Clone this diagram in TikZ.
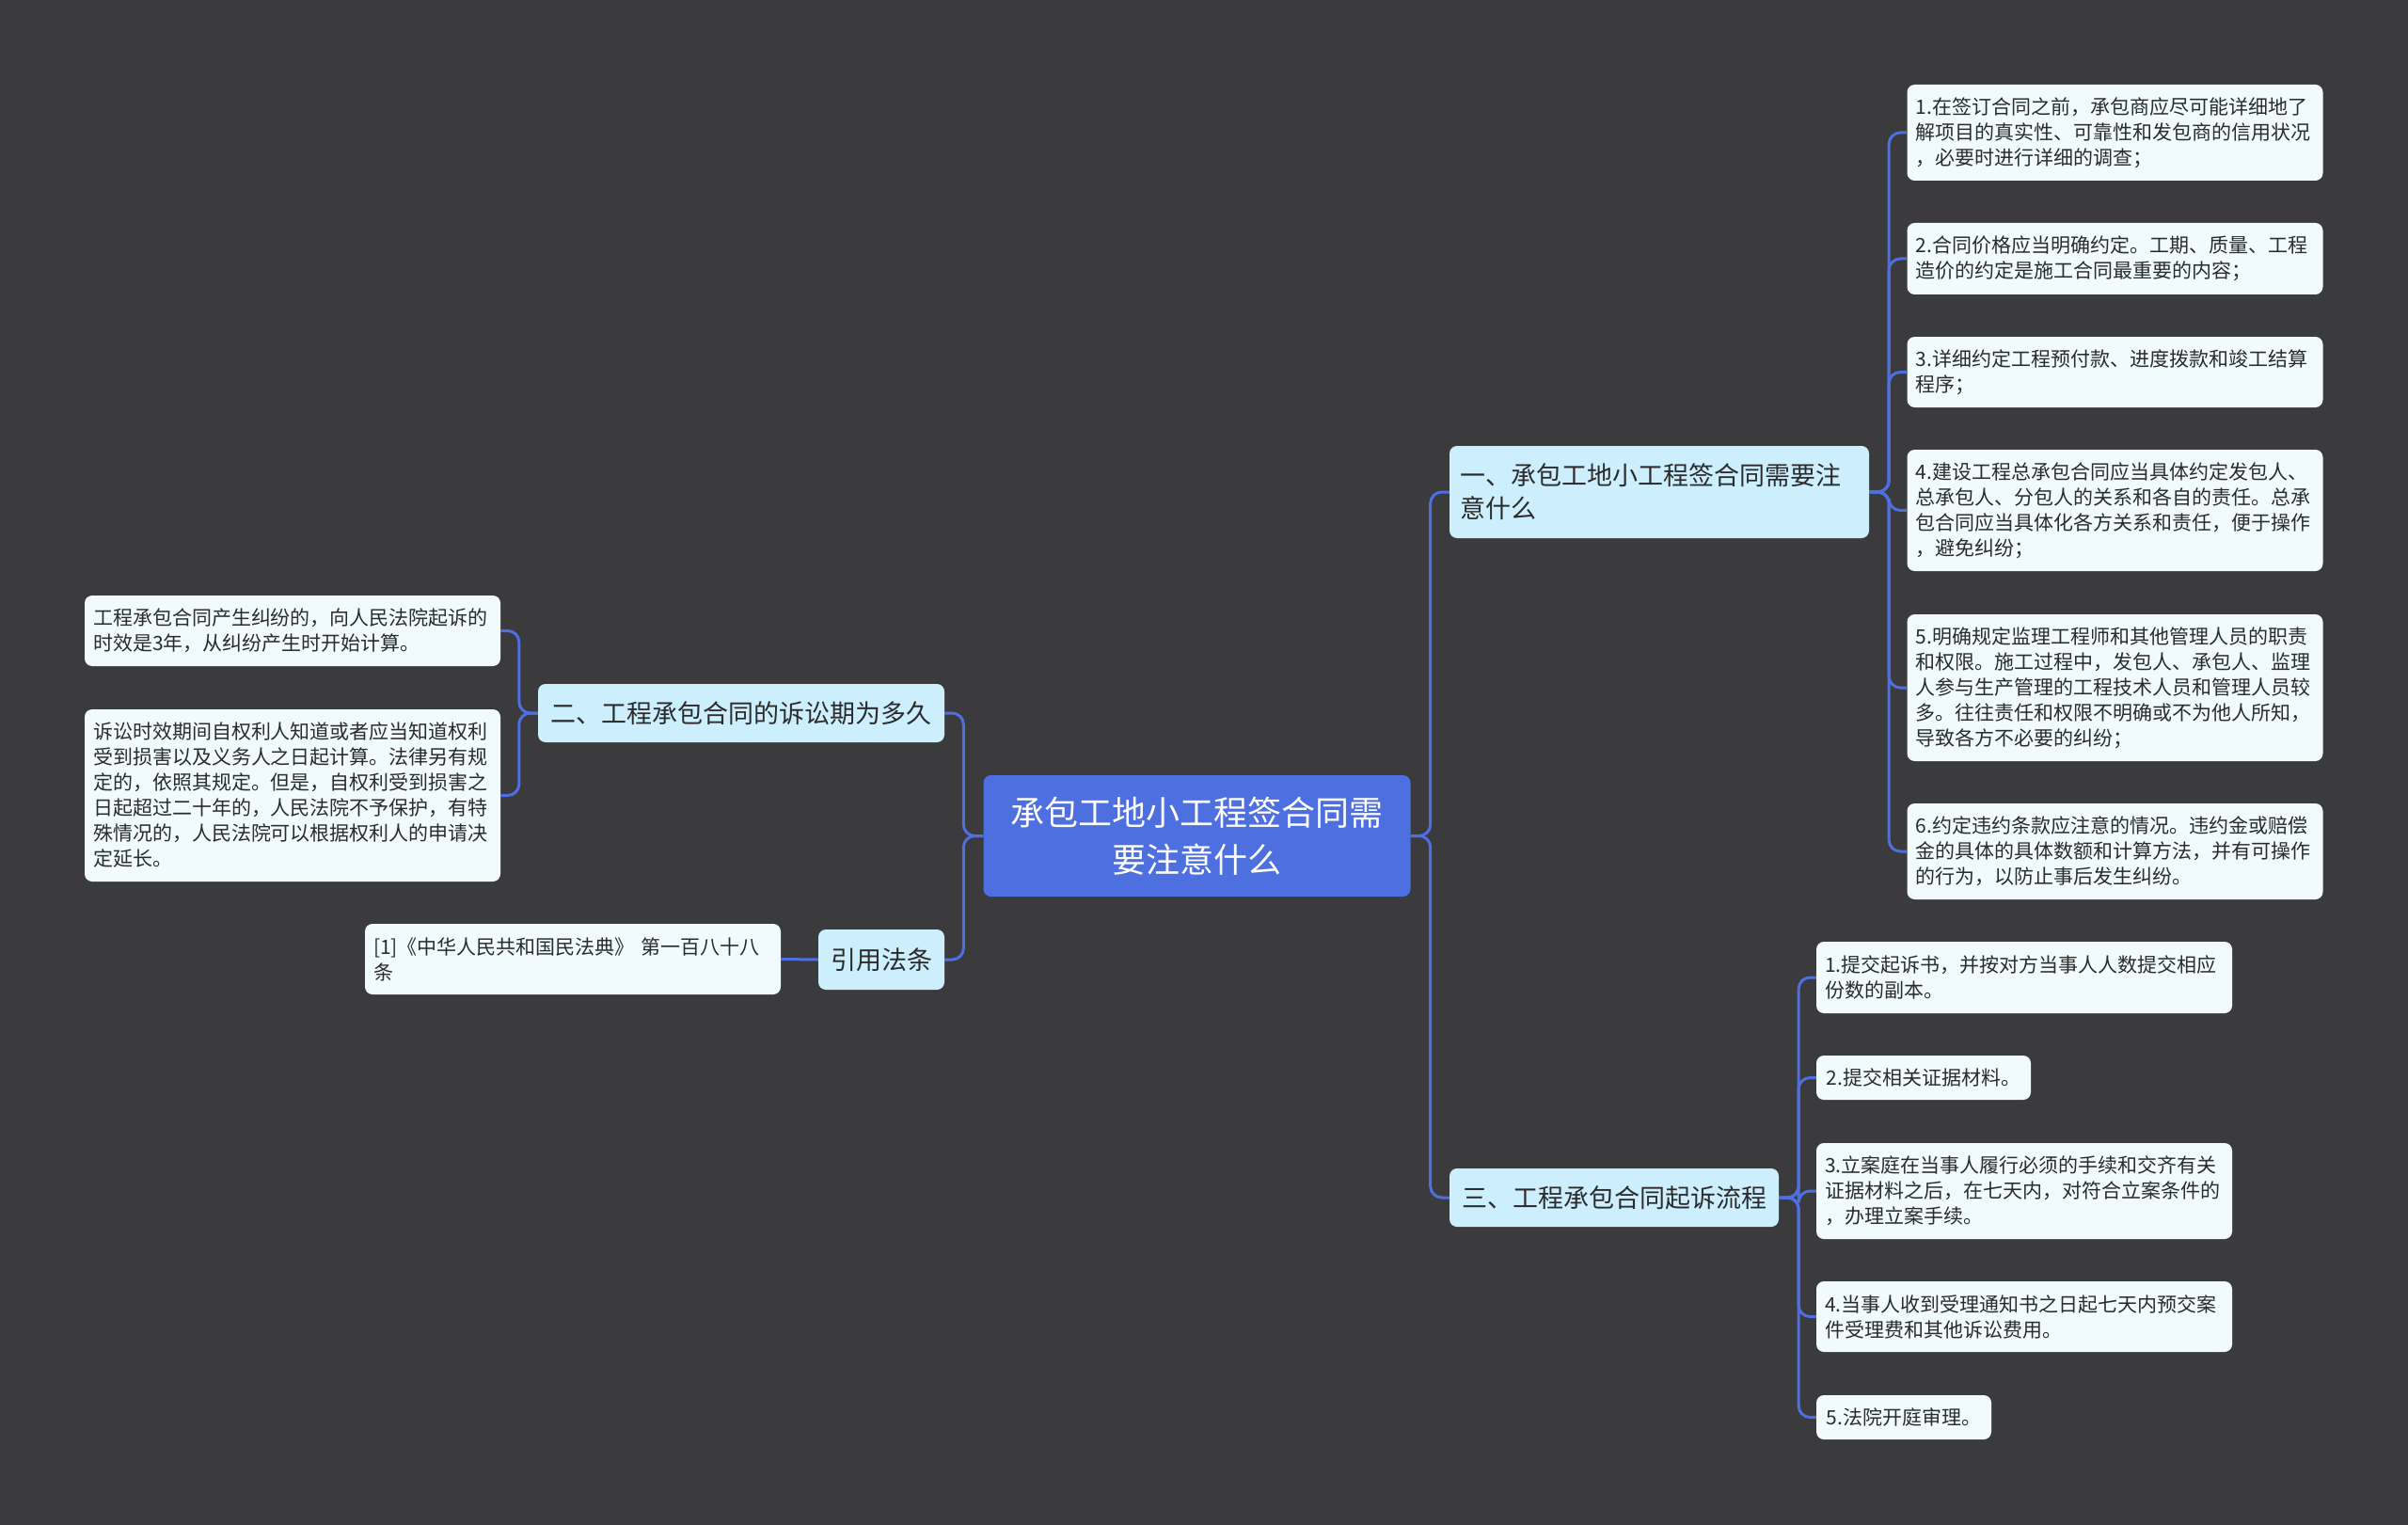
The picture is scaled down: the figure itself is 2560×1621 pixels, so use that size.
\documentclass[tikz,border=0pt]{standalone}
\usepackage{fontspec}
\setmainfont{Noto Sans CJK SC}
\definecolor{bgc}{HTML}{3B3A3C}
\definecolor{rootc}{HTML}{4E6FE0}
\definecolor{subc}{HTML}{CDEEFD}
\definecolor{leafc}{HTML}{F1FBFE}
\definecolor{txtc}{HTML}{2B2B2B}
\definecolor{linec}{HTML}{4E6FE0}
\begin{document}
\begin{tikzpicture}[x=1pt,y=-1pt,
  rootbox/.style={fill=rootc, rounded corners=8, text=white, font=\fontsize{36}{50}\selectfont, align=center, text width=430, inner xsep=12, minimum height=129, anchor=center},
  subbox/.style={fill=subc, rounded corners=8, text=txtc, font=\fontsize{27}{35}\selectfont, align=left, inner xsep=13, inner ysep=0, anchor=center},
  leafbox/.style={fill=leafc, rounded corners=8, text=txtc, font=\fontsize{21}{27}\selectfont, align=left, inner xsep=9, inner ysep=0, anchor=center},
  wideleaf/.style={leafbox, text width=424},
  conn/.style={draw=linec, line width=3, rounded corners=12}]
\path[fill=bgc] (0,0) rectangle (2560,1621);
\useasboundingbox (0,0) rectangle (2560,1621);

\node[rootbox] (root) at (1272.5,888.5) {承包工地小工程签合同需\\要注意什么};

\node[subbox, text width=424, inner xsep=11, minimum height=98] (s1) at (1764,523) {一、承包工地小工程签合同需要注\\意什么};
\node[subbox, minimum width=432, minimum height=62] (s2) at (788,758) {二、工程承包合同的诉讼期为多久};
\node[subbox, minimum width=350, minimum height=62] (s3) at (1716,1273) {三、工程承包合同起诉流程};
\node[subbox, minimum width=134, minimum height=64] (s4) at (937,1020) {引用法条};

\node[wideleaf, minimum height=102] (a1) at (2248.5,141) {1.在签订合同之前，承包商应尽可能详细地了\\解项目的真实性、可靠性和发包商的信用状况\\，必要时进行详细的调查；};
\node[wideleaf, minimum height=76] (a2) at (2248.5,275) {2.合同价格应当明确约定。工期、质量、工程\\造价的约定是施工合同最重要的内容；};
\node[wideleaf, minimum height=75] (a3) at (2248.5,395.5) {3.详细约定工程预付款、进度拨款和竣工结算\\程序；};
\node[wideleaf, minimum height=129] (a4) at (2248.5,542.5) {4.建设工程总承包合同应当具体约定发包人、\\总承包人、分包人的关系和各自的责任。总承\\包合同应当具体化各方关系和责任，便于操作\\，避免纠纷；};
\node[wideleaf, minimum height=156] (a5) at (2248.5,731) {5.明确规定监理工程师和其他管理人员的职责\\和权限。施工过程中，发包人、承包人、监理\\人参与生产管理的工程技术人员和管理人员较\\多。往往责任和权限不明确或不为他人所知，\\导致各方不必要的纠纷；};
\node[wideleaf, minimum height=102] (a6) at (2248.5,905) {6.约定违约条款应注意的情况。违约金或赔偿\\金的具体的具体数额和计算方法，并有可操作\\的行为，以防止事后发生纠纷。};

\node[wideleaf, minimum height=76] (b1) at (2152,1039) {1.提交起诉书，并按对方当事人人数提交相应\\份数的副本。};
\node[leafbox, minimum width=228, minimum height=47] (b2) at (2045,1145.5) {2.提交相关证据材料。};
\node[wideleaf, minimum height=102] (b3) at (2152,1266) {3.立案庭在当事人履行必须的手续和交齐有关\\证据材料之后，在七天内，对符合立案条件的\\，办理立案手续。};
\node[wideleaf, minimum height=75] (b4) at (2152,1399.5) {4.当事人收到受理通知书之日起七天内预交案\\件受理费和其他诉讼费用。};
\node[leafbox, minimum width=186, minimum height=47] (b5) at (2024,1506.5) {5.法院开庭审理。};

\node[wideleaf, minimum height=75] (l1) at (311,670.5) {工程承包合同产生纠纷的，向人民法院起诉的\\时效是3年，从纠纷产生时开始计算。};
\node[wideleaf, minimum height=183] (l2) at (311,845.5) {诉讼时效期间自权利人知道或者应当知道权利\\受到损害以及义务人之日起计算。法律另有规\\定的，依照其规定。但是，自权利受到损害之\\日起超过二十年的，人民法院不予保护，有特\\殊情况的，人民法院可以根据权利人的申请决\\定延长。};
\node[wideleaf, minimum height=75] (cite) at (609,1019.5) {[1]《中华人民共和国民法典》 第一百八十八\\条};

\draw[conn] (root.east) -- ++(21,0) |- (s1.west);
\draw[conn] (root.east) -- ++(21,0) |- (s3.west);
\draw[conn] (root.west) -- ++(-21,0) |- (s2.east);
\draw[conn] (root.west) -- ++(-21,0) |- (s4.east);
\foreach \n in {a1,a2,a3,a4,a5,a6} \draw[conn] (s1.east) -- ++(21,0) |- (\n.west);
\foreach \n in {b1,b2,b3,b4,b5} \draw[conn] (s3.east) -- ++(21,0) |- (\n.west);
\foreach \n in {l1,l2} \draw[conn] (s2.west) -- ++(-20,0) |- (\n.east);
\draw[conn] (s4.west) -- (cite.east);
\end{tikzpicture}
\end{document}
